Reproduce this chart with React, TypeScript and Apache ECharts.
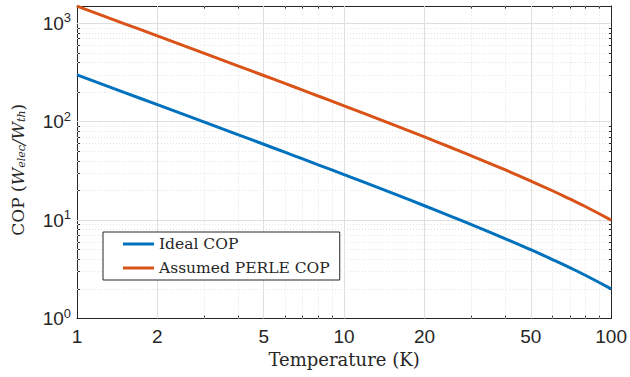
import React, { useEffect, useRef } from "react";
import * as echarts from "echarts";

const temperatures = [1, 1.5, 2, 3, 4, 5, 6, 7, 8, 10, 12, 15, 20, 25, 30, 40, 50, 60, 70, 80, 100];
const idealCOP = [299, 199, 149, 99, 74, 59, 49, 41.9, 36.5, 29, 24, 19, 14, 11, 9, 6.5, 5, 4, 3.29, 2.75, 2];
const perleCOP = [1495, 995, 745, 495, 370, 295, 245, 209.5, 182.5, 145, 120, 95, 70, 55, 45, 32.5, 25, 20, 16.4, 13.75, 10];

const xMajorTicks = [1, 2, 5, 10, 20, 50, 100];
const xMinorTicks = [3, 4, 6, 7, 8, 9, 30, 40, 60, 70, 80, 90];
const yMajorTicks = [1, 10, 100, 1000];
const yMinorTicks = [2, 3, 4, 5, 6, 7, 8, 9, 20, 30, 40, 50, 60, 70, 80, 90, 200, 300, 400, 500, 600, 700, 800, 900];

const AXIS_COLOR = "#262626";
const GRID_COLOR = "#dedede";
const MINOR_GRID_COLOR = "#e3e3e3";

export default function App() {
  const ref = useRef<HTMLDivElement>(null);
  useEffect(() => {
    if (!ref.current) return;
    const chart = echarts.init(ref.current, undefined, { renderer: "svg" });
    const gridMarks = [
      ...xMajorTicks.slice(1, -1).map((v) => ({ xAxis: v, lineStyle: { color: GRID_COLOR, type: "solid", width: 1 } })),
      ...xMinorTicks.map((v) => ({ xAxis: v, lineStyle: { color: MINOR_GRID_COLOR, type: [1, 2], width: 1 } })),
      ...yMajorTicks.slice(1).map((v) => ({ yAxis: v, lineStyle: { color: GRID_COLOR, type: "solid", width: 1 } })),
      ...yMinorTicks.map((v) => ({ yAxis: v, lineStyle: { color: MINOR_GRID_COLOR, type: [1, 2], width: 1 } })),
    ];
    const baseX = { type: "log", min: 1, max: 100, logBase: 10, gridIndex: 0 };
    const baseY = { type: "log", min: 1, max: 1500, logBase: 10, gridIndex: 0 };
    const tickAxis = (base: any, position: string, values: number[], len: number, showLine: boolean) => ({
      ...base,
      position,
      axisLine: { show: showLine, lineStyle: { color: AXIS_COLOR, width: 1 } },
      axisTick: { show: true, inside: true, length: len, customValues: values, lineStyle: { color: AXIS_COLOR, width: 1 } },
      axisLabel: { show: false },
      splitLine: { show: false },
      minorTick: { show: false },
    });
    chart.setOption({
      animation: false,
      backgroundColor: "#ffffff",
      grid: { left: 77, right: 17.5, top: 6, bottom: 58.5, containLabel: false },
      xAxis: [
        {
          ...baseX,
          position: "bottom",
          name: "Temperature (K)",
          nameLocation: "middle",
          nameGap: 30,
          nameTextStyle: { fontFamily: "DejaVu Serif", fontSize: 18, color: AXIS_COLOR },
          axisLine: { show: true, lineStyle: { color: AXIS_COLOR, width: 1 } },
          axisTick: { show: true, inside: true, length: 5, customValues: xMajorTicks, lineStyle: { color: AXIS_COLOR } },
          axisLabel: {
            customValues: xMajorTicks,
            fontFamily: "Liberation Sans",
            fontSize: 19,
            color: AXIS_COLOR,
            margin: 8,
            formatter: (v: number) => String(Math.round(v)),
          },
          splitLine: { show: false },
        },
        tickAxis(baseX, "bottom", xMinorTicks, 3, false),
        tickAxis(baseX, "top", xMajorTicks, 5, true),
        tickAxis(baseX, "top", xMinorTicks, 3, false),
      ],
      yAxis: [
        {
          ...baseY,
          position: "left",
          name: "COP ({i|W}{sub|elec}{i|/W}{sub|th})",
          nameLocation: "middle",
          nameGap: 50,
          nameTextStyle: {
            fontFamily: "DejaVu Serif",
            fontSize: 17,
            color: AXIS_COLOR,
            padding: [0, 15, 0, 0],
            rich: {
              i: { fontFamily: "DejaVu Serif", fontStyle: "italic", fontSize: 17, color: AXIS_COLOR },
              sub: { fontFamily: "DejaVu Serif", fontStyle: "italic", fontSize: 11, color: AXIS_COLOR, padding: [8, 0, 0, 0] },
            },
          },
          axisLine: { show: true, lineStyle: { color: AXIS_COLOR, width: 1 } },
          axisTick: { show: true, inside: true, length: 5, customValues: yMajorTicks, lineStyle: { color: AXIS_COLOR } },
          axisLabel: {
            customValues: yMajorTicks,
            margin: 6,
            color: AXIS_COLOR,
            formatter: (v: number) => `{b|10}{s|${Math.round(Math.log10(v))}}`,
            rich: {
              b: { fontFamily: "Liberation Sans", fontSize: 19, color: AXIS_COLOR },
              s: { fontFamily: "Liberation Sans", fontSize: 13, color: AXIS_COLOR, padding: [0, 0, 11, 0] },
            },
          },
          splitLine: { show: false },
        },
        tickAxis(baseY, "left", yMinorTicks, 3, false),
        tickAxis(baseY, "right", yMajorTicks, 5, true),
        tickAxis(baseY, "right", yMinorTicks, 3, false),
      ],
      legend: {
        orient: "vertical",
        left: 103,
        top: 232,
        padding: [4, 10, 4, 20],
        itemGap: 8,
        itemWidth: 31,
        itemHeight: 3,
        icon: "rect",
        backgroundColor: "#ffffff",
        borderColor: AXIS_COLOR,
        borderWidth: 1,
        borderRadius: 0,
        textStyle: { fontFamily: "DejaVu Serif", fontSize: 15.5, color: AXIS_COLOR },
        data: ["Ideal COP", "Assumed PERLE COP"],
      },
      series: [
        {
          name: "Ideal COP",
          type: "line",
          xAxisIndex: 0,
          yAxisIndex: 0,
          data: temperatures.map((t, i) => [t, idealCOP[i]]),
          showSymbol: false,
          smooth: true,
          lineStyle: { color: "#0072BD", width: 3 },
          itemStyle: { color: "#0072BD" },
          z: 3,
          markLine: {
            silent: true,
            symbol: "none",
            label: { show: false },
            animation: false,
            data: gridMarks,
            z: 1,
          },
        },
        {
          name: "Assumed PERLE COP",
          type: "line",
          xAxisIndex: 0,
          yAxisIndex: 0,
          data: temperatures.map((t, i) => [t, perleCOP[i]]),
          showSymbol: false,
          smooth: true,
          lineStyle: { color: "#D95319", width: 3 },
          itemStyle: { color: "#D95319" },
          z: 3,
        },
      ],
    });
    return () => chart.dispose();
  }, []);
  return <div ref={ref} style={{ position: "fixed", left: 0, top: 0, width: 630, height: 377 }} />;
}
